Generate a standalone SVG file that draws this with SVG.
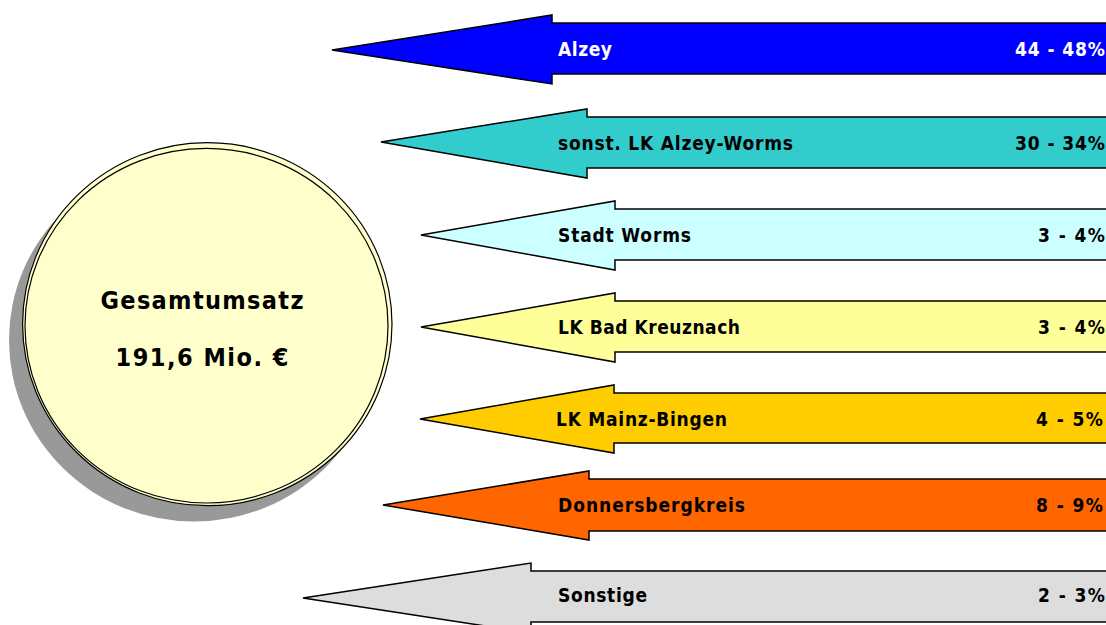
<svg xmlns="http://www.w3.org/2000/svg" width="1106" height="625" viewBox="0 0 1106 625">
<style>
.arr{stroke:#000;stroke-width:1.5;stroke-linejoin:miter}
.lbl{font-family:"DejaVu Sans Condensed","DejaVu Sans","Liberation Sans",sans-serif;font-stretch:condensed;font-weight:bold;font-size:19px;fill:#000}
.w{fill:#fff}
.big{font-family:"DejaVu Sans Condensed","DejaVu Sans","Liberation Sans",sans-serif;font-stretch:condensed;font-weight:bold;font-size:25px;fill:#000;text-anchor:middle}
</style>
<rect width="1106" height="625" fill="#fff"/>
<g id="total">
<ellipse cx="194" cy="340" rx="185" ry="181.5" fill="#999"/>
<ellipse cx="207.3" cy="324.2" rx="184.7" ry="181.5" fill="#ffffcc" stroke="#000" stroke-width="1.2"/>
<ellipse cx="206.5" cy="325.7" rx="181.5" ry="177.3" fill="#ffffcc" stroke="#000" stroke-width="1.2"/>
<text class="big" x="202" y="309" textLength="203" lengthAdjust="spacing">Gesamtumsatz</text>
<text class="big" x="202" y="366" textLength="173" lengthAdjust="spacing">191,6 Mio. €</text>
</g>
<g id="connectors">
<g id="alzey">
<polygon class="arr" fill="#0000ff" points="1120,23 552,23 552,15 332,50 552,84 552,74 1120,74"/>
<text class="lbl w" x="558" y="56" textLength="54" lengthAdjust="spacing">Alzey</text>
<text class="lbl w" x="1105" y="56" text-anchor="end" textLength="90" lengthAdjust="spacing">44 - 48%</text>
</g>
<g id="lk-alzey-worms">
<polygon class="arr" fill="#33cccc" points="1120,117 587,117 587,109 381,142 587,178 587,168 1120,168"/>
<text class="lbl" x="558" y="150" textLength="235" lengthAdjust="spacing">sonst. LK Alzey-Worms</text>
<text class="lbl" x="1105" y="150" text-anchor="end" textLength="90" lengthAdjust="spacing">30 - 34%</text>
</g>
<g id="stadt-worms">
<polygon class="arr" fill="#ccffff" points="1120,209 615,209 615,201 421,235 615,270 615,260 1120,260"/>
<text class="lbl" x="558" y="242" textLength="133" lengthAdjust="spacing">Stadt Worms</text>
<text class="lbl" x="1105" y="242" text-anchor="end" textLength="67" lengthAdjust="spacing">3 - 4%</text>
</g>
<g id="bad-kreuznach">
<polygon class="arr" fill="#ffff99" points="1120,301 615,301 615,293 421,327 615,362 615,352 1120,352"/>
<text class="lbl" x="558" y="334" textLength="182" lengthAdjust="spacing">LK Bad Kreuznach</text>
<text class="lbl" x="1105" y="334" text-anchor="end" textLength="67" lengthAdjust="spacing">3 - 4%</text>
</g>
<g id="mainz-bingen">
<polygon class="arr" fill="#ffcc00" points="1120,393 614,393 614,385 420,419 614,453 614,443 1120,443"/>
<text class="lbl" x="556" y="426" textLength="171" lengthAdjust="spacing">LK Mainz-Bingen</text>
<text class="lbl" x="1103" y="426" text-anchor="end" textLength="67" lengthAdjust="spacing">4 - 5%</text>
</g>
<g id="donnersberg">
<polygon class="arr" fill="#ff6600" points="1120,479 589,479 589,471 383,505 589,540 589,531 1120,531"/>
<text class="lbl" x="558" y="512" textLength="187" lengthAdjust="spacing">Donnersbergkreis</text>
<text class="lbl" x="1103" y="512" text-anchor="end" textLength="67" lengthAdjust="spacing">8 - 9%</text>
</g>
<g id="sonstige">
<polygon class="arr" fill="#dddddd" points="1120,571 531,571 531,563 303,598 531,633 531,622 1120,622"/>
<text class="lbl" x="558" y="602" textLength="89" lengthAdjust="spacing">Sonstige</text>
<text class="lbl" x="1105" y="602" text-anchor="end" textLength="67" lengthAdjust="spacing">2 - 3%</text>
</g>
</g>
</svg>
